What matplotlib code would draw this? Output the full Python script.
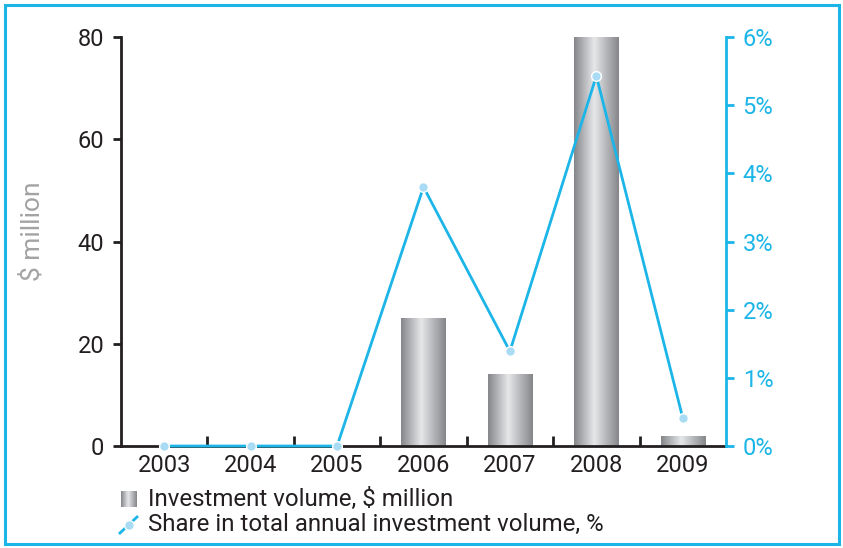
import numpy as np
import matplotlib.pyplot as plt
from matplotlib.colors import LinearSegmentedColormap
from matplotlib.patches import Rectangle
from matplotlib.lines import Line2D

plt.rcParams['font.family'] = ['Roboto', 'DejaVu Sans']

# Data
years = ['2003', '2004', '2005', '2006', '2007', '2008', '2009']
volume = [0, 0, 0, 25, 14, 80, 2]                      # $ million
share = [0.0, 0.0, 0.0, 3.80, 1.39, 5.43, 0.41]         # %
y_ticks = [0, 20, 40, 60, 80]
y2_ticks = [0, 1, 2, 3, 4, 5, 6]

CYAN = '#1cb5e8'
DARK = '#231f20'
MARKER_FACE = '#a9dcf4'

bar_cmap = LinearSegmentedColormap.from_list(
    'cyl', [(0.0, '#85868a'), (0.45, '#e6e7e9'), (1.0, '#85868a')])

fig = plt.figure(figsize=(8.43, 5.48), dpi=100)
ax = fig.add_axes([0.1435, 0.1861, 0.7177, 0.7464])

x = np.arange(len(years))
width = 0.51
grad = np.linspace(0, 1, 256).reshape(1, -1)
for xi, v in zip(x, volume):
    if v <= 0:
        continue
    rect = Rectangle((xi - width / 2, 0), width, v, facecolor='none',
                     edgecolor='none')
    ax.add_patch(rect)
    im = ax.imshow(grad, cmap=bar_cmap, aspect='auto',
                   extent=(xi - width / 2, xi + width / 2, 0, v), zorder=2)
    im.set_clip_path(rect)

ax.set_xlim(-0.5, len(years) - 0.5)
ax.set_ylim(0, 80)
ax.set_yticks(y_ticks)
ax.set_xticks(x)
ax.set_xticklabels(years)
ax.set_xticks(x[:-1] + 0.5, minor=True)
ax.tick_params(axis='x', which='major', length=0, labelsize=17,
               labelcolor=DARK, pad=6)
ax.tick_params(axis='x', which='minor', direction='in', length=7,
               width=2, color=DARK)
ax.tick_params(axis='y', direction='out', length=6, width=2, color=DARK,
               labelsize=17, labelcolor=DARK, pad=6)
for s in ['top', 'right']:
    ax.spines[s].set_visible(False)
for s in ['left', 'bottom']:
    ax.spines[s].set_linewidth(2)
    ax.spines[s].set_color(DARK)
ax.set_ylabel('$ million', color='#a3a3a3', fontsize=19)
ax.yaxis.set_label_coords(-0.126, 0.526)

ax2 = ax.twinx()
ax2.plot(x, share, color=CYAN, lw=2, marker='o', ms=7,
         mfc=MARKER_FACE, mec='white', mew=1, zorder=3, clip_on=False)
ax2.set_ylim(0, 6)
ax2.set_yticks(y2_ticks)
ax2.set_yticklabels([f'{t}%' for t in y2_ticks])
ax2.tick_params(axis='y', direction='out', length=6, width=2, color=CYAN,
                labelsize=17, labelcolor=CYAN, pad=6)
for s in ['top', 'left', 'bottom']:
    ax2.spines[s].set_visible(False)
ax2.spines['right'].set_color(CYAN)
ax2.spines['right'].set_linewidth(2)

# legend, drawn by hand to get the gradient swatch
sw = fig.add_axes([121 / 843, 1 - 507 / 548, 16 / 843, 16 / 548])
sw.imshow(grad, cmap=bar_cmap, aspect='auto')
sw.axis('off')
fig.text(148 / 843, 1 - 499 / 548, 'Investment volume, $ million',
         fontsize=17.3, color=DARK, va='center')
fig.add_artist(Line2D([120 / 843, 137 / 843], [1 - 533 / 548, 1 - 517 / 548],
                      color=CYAN, lw=2, transform=fig.transFigure))
fig.add_artist(Line2D([128.5 / 843], [1 - 525 / 548], marker='o', ms=7,
                      mfc=MARKER_FACE, mec='white', mew=1,
                      transform=fig.transFigure))
fig.text(148 / 843, 1 - 524 / 548, 'Share in total annual investment volume, %',
         fontsize=17.3, color=DARK, va='center')

# frame around the whole chart
fig.add_artist(Rectangle((4.5 / 843, 4.5 / 548), 834 / 843, 539 / 548,
                         transform=fig.transFigure, fill=False,
                         edgecolor=CYAN, lw=2.2))

fig.savefig('out.png', dpi=100)
